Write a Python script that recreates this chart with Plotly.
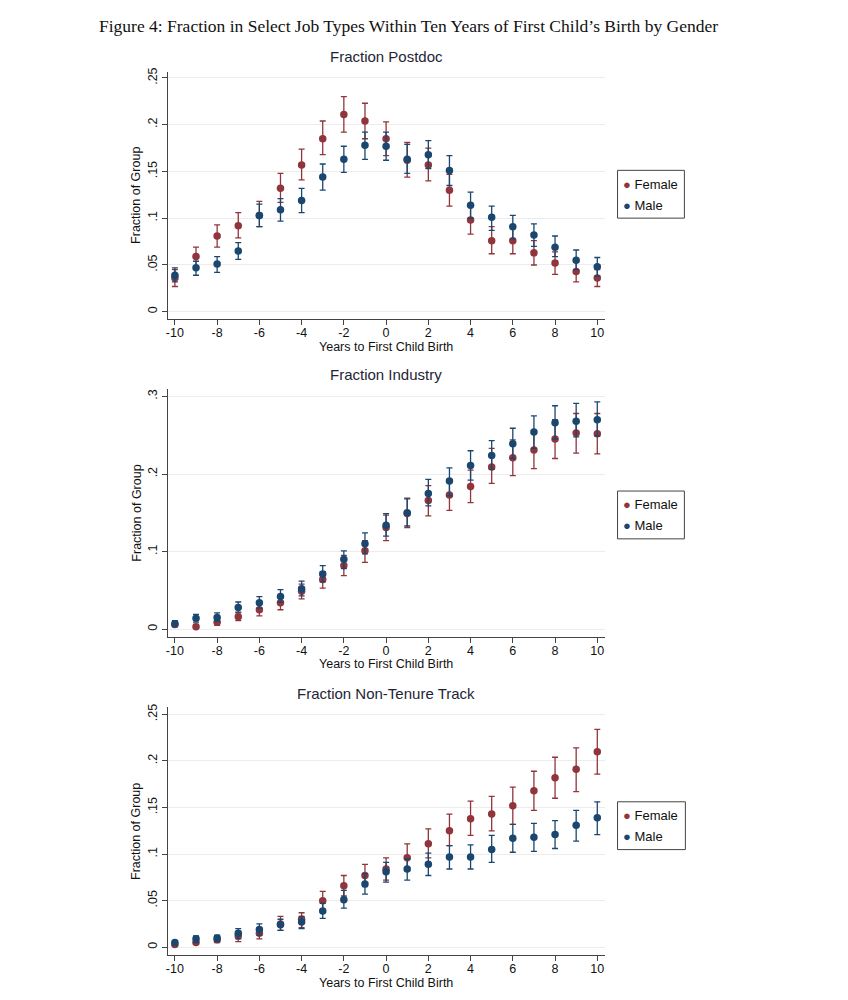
import plotly.graph_objects as go

W, H = 848, 1000

years = list(range(-10, 11))

# ---- Panel 1: Fraction Postdoc ----
post_f = [0.036, 0.059, 0.081, 0.092, 0.103, 0.132, 0.157, 0.185, 0.211, 0.204, 0.185,
          0.162, 0.157, 0.130, 0.098, 0.076, 0.076, 0.063, 0.052, 0.043, 0.036]
post_f_lo = [0.027, 0.048, 0.069, 0.079, 0.091, 0.117, 0.141, 0.168, 0.192, 0.185, 0.167,
             0.144, 0.140, 0.113, 0.083, 0.062, 0.062, 0.050, 0.040, 0.032, 0.027]
post_f_hi = [0.045, 0.069, 0.093, 0.106, 0.118, 0.148, 0.174, 0.204, 0.230, 0.223, 0.203,
             0.181, 0.175, 0.147, 0.113, 0.091, 0.091, 0.076, 0.064, 0.053, 0.045]
post_m = [0.039, 0.047, 0.051, 0.065, 0.103, 0.109, 0.119, 0.144, 0.163, 0.178, 0.177,
          0.163, 0.168, 0.151, 0.114, 0.101, 0.091, 0.082, 0.069, 0.055, 0.048]
post_m_lo = [0.032, 0.039, 0.042, 0.056, 0.091, 0.097, 0.106, 0.130, 0.149, 0.163, 0.162,
             0.148, 0.153, 0.135, 0.100, 0.087, 0.078, 0.070, 0.059, 0.045, 0.038]
post_m_hi = [0.047, 0.054, 0.059, 0.074, 0.115, 0.121, 0.132, 0.158, 0.177, 0.192, 0.192,
             0.179, 0.183, 0.167, 0.128, 0.113, 0.103, 0.094, 0.081, 0.066, 0.058]

# ---- Panel 2: Fraction Industry ----
ind_f = [0.006, 0.003, 0.009, 0.016, 0.025, 0.034, 0.049, 0.064, 0.082, 0.101, 0.131,
         0.149, 0.166, 0.173, 0.184, 0.209, 0.221, 0.231, 0.245, 0.253, 0.252]
ind_f_lo = [0.003, 0.001, 0.005, 0.011, 0.017, 0.025, 0.039, 0.053, 0.069, 0.086, 0.114,
            0.131, 0.146, 0.153, 0.163, 0.188, 0.198, 0.207, 0.220, 0.227, 0.226]
ind_f_hi = [0.010, 0.006, 0.013, 0.021, 0.032, 0.042, 0.058, 0.074, 0.095, 0.114, 0.147,
            0.169, 0.185, 0.193, 0.205, 0.233, 0.244, 0.256, 0.270, 0.278, 0.278]
ind_m = [0.007, 0.014, 0.015, 0.028, 0.034, 0.042, 0.052, 0.071, 0.090, 0.110, 0.134,
         0.150, 0.175, 0.191, 0.211, 0.224, 0.239, 0.254, 0.266, 0.268, 0.270]
ind_m_lo = [0.004, 0.009, 0.010, 0.022, 0.027, 0.035, 0.043, 0.061, 0.078, 0.097, 0.120,
            0.133, 0.159, 0.172, 0.192, 0.206, 0.220, 0.233, 0.245, 0.248, 0.249]
ind_m_hi = [0.011, 0.019, 0.021, 0.035, 0.042, 0.051, 0.062, 0.082, 0.101, 0.124, 0.149,
            0.168, 0.193, 0.208, 0.230, 0.243, 0.259, 0.275, 0.288, 0.291, 0.293]

# ---- Panel 3: Fraction Non-Tenure Track ----
ntt_f = [0.003, 0.005, 0.008, 0.012, 0.015, 0.025, 0.030, 0.050, 0.066, 0.077, 0.084,
         0.096, 0.111, 0.125, 0.138, 0.143, 0.152, 0.168, 0.182, 0.191, 0.210]
ntt_f_lo = [0.001, 0.003, 0.005, 0.006, 0.009, 0.018, 0.021, 0.040, 0.055, 0.065, 0.072,
            0.082, 0.096, 0.109, 0.120, 0.125, 0.132, 0.147, 0.160, 0.167, 0.186]
ntt_f_hi = [0.006, 0.008, 0.012, 0.017, 0.021, 0.033, 0.037, 0.060, 0.077, 0.089, 0.096,
            0.111, 0.127, 0.143, 0.157, 0.162, 0.172, 0.189, 0.204, 0.214, 0.234]
ntt_m = [0.005, 0.009, 0.010, 0.015, 0.019, 0.024, 0.027, 0.039, 0.051, 0.068, 0.081,
         0.084, 0.089, 0.097, 0.097, 0.105, 0.117, 0.118, 0.121, 0.131, 0.139]
ntt_m_lo = [0.002, 0.005, 0.006, 0.009, 0.013, 0.018, 0.020, 0.031, 0.042, 0.057, 0.070,
            0.072, 0.077, 0.084, 0.084, 0.091, 0.102, 0.103, 0.106, 0.114, 0.121]
ntt_m_hi = [0.007, 0.012, 0.013, 0.020, 0.025, 0.030, 0.033, 0.047, 0.061, 0.079, 0.091,
            0.095, 0.101, 0.109, 0.110, 0.120, 0.132, 0.133, 0.136, 0.147, 0.156]

x_ticks = list(range(-10, 11, 2))
x_text = [str(v) for v in x_ticks]
y_ticks_1 = [0, 0.05, 0.1, 0.15, 0.2, 0.25]
y_text_1 = ["0", ".05", ".1", ".15", ".2", ".25"]
y_ticks_2 = [0, 0.1, 0.2, 0.3]
y_text_2 = ["0", ".1", ".2", ".3"]
y_ticks_3 = [0, 0.05, 0.1, 0.15, 0.2, 0.25]
y_text_3 = ["0", ".05", ".1", ".15", ".2", ".25"]

titles = ["Fraction Postdoc", "Fraction Industry", "Fraction Non-Tenure Track"]
fig_title = "Figure 4: Fraction in Select Job Types Within Ten Years of First Child\u2019s Birth by Gender"
series_names = ["Female", "Male"]

RED = "#90353b"
NAVY = "#1a476f"

# layout geometry (pixels)
x_left, x_right = 166, 604
panels_px = [(68, 316), (386.7, 635.3), (706, 955.3)]
yranges = [(-0.0075, 0.2567), (-0.0098, 0.3094), (-0.0089, 0.2578)]
legend_boxes = [(617, 167, 684, 215), (617, 489, 684, 537), (617, 801, 685, 849)]
title_ys = [53, 372, 692]
xtitle_ys = [344, 663, 983]

fig = go.Figure()

panels = [
    (post_f, post_f_lo, post_f_hi, post_m, post_m_lo, post_m_hi, y_ticks_1, y_text_1),
    (ind_f, ind_f_lo, ind_f_hi, ind_m, ind_m_lo, ind_m_hi, y_ticks_2, y_text_2),
    (ntt_f, ntt_f_lo, ntt_f_hi, ntt_m, ntt_m_lo, ntt_m_hi, y_ticks_3, y_text_3),
]

font_fam = "Liberation Sans, Arial, sans-serif"


def px(xp):
    return xp / W


def py(yp):
    return 1 - yp / H


for i, (f, flo, fhi, m, mlo, mhi, yt, ytt) in enumerate(panels):
    n = i + 1
    xa = "x" if n == 1 else f"x{n}"
    ya = "y" if n == 1 else f"y{n}"
    for name, vals, lo, hi, col in [(series_names[0], f, flo, fhi, RED),
                                    (series_names[1], m, mlo, mhi, NAVY)]:
        fig.add_trace(go.Scatter(
            x=years, y=vals, mode="markers", name=name,
            marker=dict(color=col, size=7.5),
            error_y=dict(type="data", symmetric=False,
                         array=[h - v for h, v in zip(hi, vals)],
                         arrayminus=[v - l for v, l in zip(vals, lo)],
                         color=col, thickness=1.3, width=3),
            xaxis=xa, yaxis=ya, showlegend=False,
        ))
    top, bot = panels_px[i]
    axis_common = dict(showline=True, linecolor="#444444", linewidth=1,
                       ticks="outside", ticklen=5, tickcolor="#444444",
                       tickfont=dict(family=font_fam, size=12.5, color="#111111"))
    fig.layout[f"xaxis{'' if n == 1 else n}"] = dict(
        domain=[px(x_left), px(x_right)], anchor=ya,
        range=[-10.345, 10.345], tickvals=x_ticks, ticktext=x_text,
        ticklabelstandoff=-3,
        showgrid=False, zeroline=False, **axis_common)
    fig.layout[f"yaxis{'' if n == 1 else n}"] = dict(
        domain=[py(bot), py(top)], anchor=xa,
        range=list(yranges[i]), tickvals=yt, ticktext=ytt, tickangle=-90,
        showgrid=True, gridcolor="#ececec", gridwidth=1, zeroline=False,
        **axis_common)

    # legend box
    lx0, ly0, lx1, ly1 = legend_boxes[i]
    fig.add_shape(type="rect", xref="paper", yref="paper",
                  x0=px(lx0), x1=px(lx1), y0=py(ly1), y1=py(ly0),
                  line=dict(color="#444444", width=1), fillcolor="white", layer="above")
    for k, (nm, col) in enumerate([(series_names[0], RED), (series_names[1], NAVY)]):
        fig.add_annotation(
            text=f"<span style='color:{col};font-size:13px'>\u25cf</span> {nm}",
            x=px(lx0 + 3), y=py(ly0 + 14 + 21 * k), xref="paper", yref="paper",
            xanchor="left", yanchor="middle", showarrow=False,
            font=dict(family=font_fam, size=13, color="#111111"))

    fig.add_annotation(text=titles[i], x=px((x_left + x_right) / 2), y=py(title_ys[i]),
                       xref="paper", yref="paper", showarrow=False,
                       xanchor="center", yanchor="middle",
                       font=dict(family=font_fam, size=15, color="#1e2535"))
    fig.add_annotation(text="Years to First Child Birth", x=px((x_left + x_right) / 2),
                       y=py(xtitle_ys[i]), xref="paper", yref="paper", showarrow=False,
                       xanchor="center", yanchor="middle",
                       font=dict(family=font_fam, size=12.5, color="#111111"))
    fig.add_annotation(text="Fraction of Group", x=px(135), y=py((top + bot) / 2),
                       xref="paper", yref="paper", showarrow=False, textangle=-90,
                       xanchor="center", yanchor="middle",
                       font=dict(family=font_fam, size=12.5, color="#111111"))

fig.add_annotation(text=fig_title, x=px(407), y=py(22), xref="paper", yref="paper",
                   showarrow=False, xanchor="center", yanchor="middle",
                   font=dict(family="Liberation Serif, Times New Roman, serif",
                             size=17.5, color="#111111"))

fig.update_layout(width=W, height=H, margin=dict(l=0, r=0, t=0, b=0),
                  paper_bgcolor="white", plot_bgcolor="white", showlegend=False)

fig.write_html("out.html", config={"displayModeBar": False},
               post_script="document.body.style.margin='0';")
